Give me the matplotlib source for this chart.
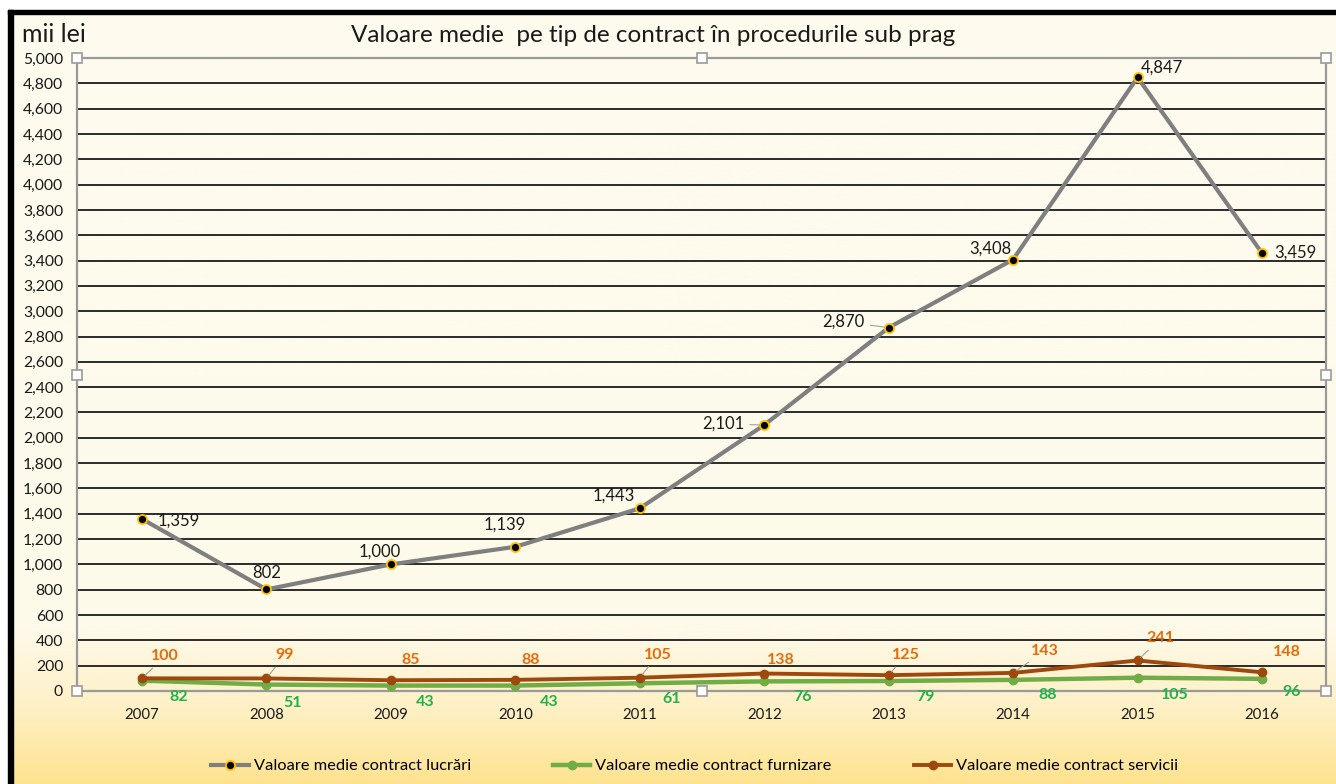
import numpy as np
import matplotlib
matplotlib.use("Agg")
import matplotlib.pyplot as plt
from matplotlib.colors import LinearSegmentedColormap

plt.rcParams['font.family'] = ['Lato', 'DejaVu Sans']

years = ['2007', '2008', '2009', '2010', '2011', '2012', '2013', '2014', '2015', '2016']
lucrari = [1359, 802, 1000, 1139, 1443, 2101, 2870, 3408, 4847, 3459]
furnizare = [82, 51, 43, 43, 61, 76, 79, 88, 105, 96]
servicii = [100, 99, 85, 88, 105, 138, 125, 143, 241, 148]

names = ['Valoare medie contract lucrări', 'Valoare medie contract furnizare',
         'Valoare medie contract servicii']

# label offsets in pixels (dx, dy), and whether excel drew a leader line
off_lucr = [(37, -2), (0, 16), (-11, 13), (-11, 22), (-26, 13), (-41, 1), (-45, 6), (-23, 11), (24, 10), (33, 0)]
lead_lucr = [0, 0, 0, 0, 0, 1, 1, 0, 0, 0]
off_serv = [(23, 22), (18, 23), (20, 20), (15, 20), (18, 23), (17, 14), (17, 20), (32, 22), (23, 22), (25, 20)]
lead_serv = [1, 1, 0, 0, 1, 0, 1, 1, 1, 0]
off_furn = [(37, -16), (26, -18), (34, -16), (34, -16), (32, -16), (38, -16), (37, -16), (35, -15), (37, -17), (30, -13)]

W, H = 1336, 784
fig = plt.figure(figsize=(W / 100, H / 100), dpi=100)

# background: cream fading to yellow at the bottom
bg = fig.add_axes([0, 0, 1, 1], zorder=-10)
cmap = LinearSegmentedColormap.from_list('bg', [(0, '#FEFBEF'), (0.80, '#FEFAEA'), (0.90, '#FEF1C8'), (1, '#FDE390')])
grad = np.linspace(0, 1, 400).reshape(-1, 1)
bg.imshow(grad, aspect='auto', cmap=cmap, extent=[0, W, H, 0])
bg.fill_between([0, W], 0, 10, color='white')
bg.fill_between([0, 8], 0, H, color='white')
bg.fill_between([8, 13], 10, H, color='black')
bg.fill_between([8, W], 10, 14, color='black')
bg.set_xlim(0, W)
bg.set_ylim(H, 0)
bg.axis('off')

ax = fig.add_axes([77 / W, 93 / H, 1249 / W, 633 / H])
ax.patch.set_alpha(0)
x = np.arange(len(years))
ax.set_xlim(-65 / 124.44, 9 + 64 / 124.44)
ax.set_ylim(0, 5000)
ax.set_yticks(np.arange(0, 5001, 200))
ax.set_yticklabels(['{:,}'.format(v) for v in range(0, 5001, 200)], fontsize=11.3, color='#1a1a1a')
ax.set_xticks(x)
ax.set_xticklabels(years, fontsize=10.8, color='#1a1a1a')
ax.tick_params(axis='y', length=0, pad=10)
ax.tick_params(axis='x', length=0, pad=12)
for g in range(200, 5000, 200):
    ax.axhline(g, color='#2b2b2b', lw=1.4, zorder=1)
for s in ax.spines.values():
    s.set_color('#9a9a9a')
    s.set_linewidth(1.6)

ax.plot(x, lucrari, color='#7F7F7F', lw=3, marker='o', ms=6.5, mfc='black', mec='#FFC000', mew=1.3,
        zorder=5, label=names[0])
ax.plot(x, furnizare, color='#70AD47', lw=3.2, marker='o', ms=6, mfc='#70AD47', mec='#70AD47',
        zorder=3, label=names[1])
ax.plot(x, servicii, color='#9E480E', lw=2.8, marker='o', ms=6, mfc='#9E480E', mec='#9E480E',
        zorder=4, label=names[2])

for i in range(len(x)):
    ap = dict(arrowstyle='-', color='#A0A0A0', lw=0.8, shrinkA=2, shrinkB=3) if lead_lucr[i] else None
    ax.annotate('{:,}'.format(lucrari[i]), (x[i], lucrari[i]), xytext=off_lucr[i], textcoords='offset pixels',
                ha='center', va='center', fontsize=12, color='#1a1a1a', arrowprops=ap, zorder=6)
    ap = dict(arrowstyle='-', color='#A0A0A0', lw=0.8, shrinkA=2, shrinkB=3) if lead_serv[i] else None
    ax.annotate('{:,}'.format(servicii[i]), (x[i], servicii[i]), xytext=off_serv[i], textcoords='offset pixels',
                ha='center', va='center', fontsize=11.5, fontweight='bold', color='#E46C0A', arrowprops=ap, zorder=6)
    ax.annotate('{:,}'.format(furnizare[i]), (x[i], furnizare[i]), xytext=off_furn[i], textcoords='offset pixels',
                ha='center', va='center', fontsize=11.5, fontweight='bold', color='#22B14C', zorder=6)

# selection handles of the chart frame
hx = [0, 0.5, 1, 0, 1, 0, 0.5, 1]
hy = [1, 1, 1, 0.5, 0.5, 0, 0, 0]
ax.plot(hx, hy, ls='none', marker='s', ms=7, mfc='white', mec='#9a9a9a', mew=1.2,
        transform=ax.transAxes, clip_on=False, zorder=10)

fig.text(22 / W, 1 - 35 / H, 'mii lei', fontsize=18, color='#1a1a1a', va='center', ha='left')
fig.text(653 / W, 1 - 35 / H, 'Valoare medie  pe tip de contract în procedurile sub prag', fontsize=17.5,
         color='#1a1a1a', va='center', ha='center')

leg = fig.legend(loc='center', bbox_to_anchor=(0.52, 1 - 766 / H), ncol=3, frameon=False, fontsize=11.8,
                 handlelength=2.3, columnspacing=5.0, handletextpad=0.3)

fig.savefig('out.png', dpi=100)
